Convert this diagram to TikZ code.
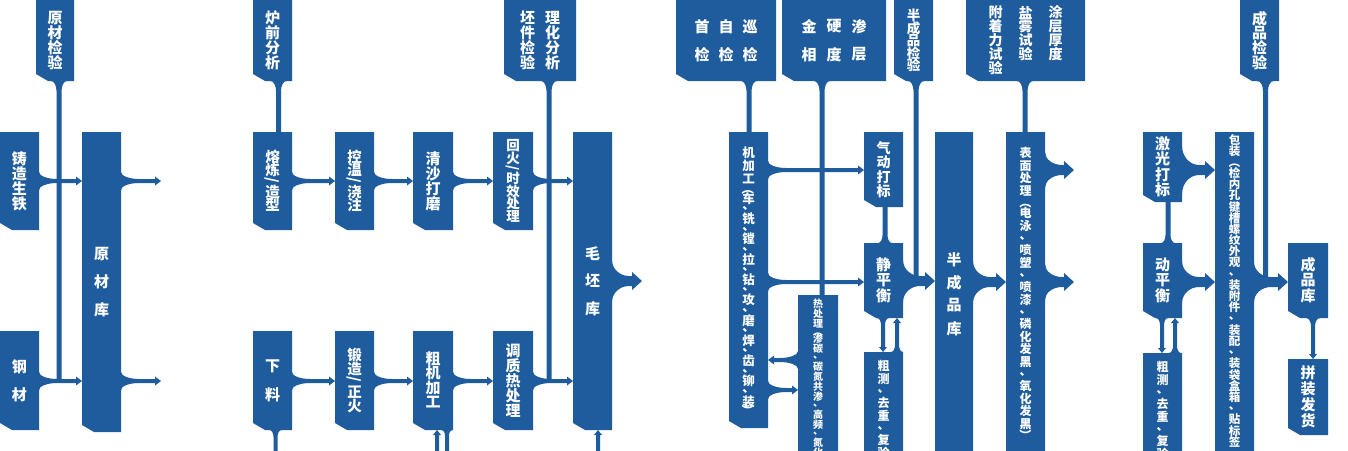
\documentclass[tikz,border=0pt]{standalone}
\usepackage{fontspec}
\setmainfont{Noto Sans CJK SC}
\usepackage{graphicx}
\usetikzlibrary{calc,backgrounds}
\definecolor{boxblue}{HTML}{1F5C9E}

% ---------- vertical (stacked) text ----------
\newlength\vpch \newlength\vppu \newlength\vpsl \newlength\vcw
\newcommand\vcell[2]{\hbox to\vcw{\hss\vbox to#1{\vss\hbox{#2}\vss\kern0pt}\hss}}
\def\vput#1{%
  \ifx#1、\vcell\vppu{#1}%
  \else\ifx#1/\vcell\vpsl{\rotatebox[origin=c]{-90}{#1}}%
  \else\ifx#1（\vcell\vpsl{\rotatebox[origin=c]{-90}{#1}}%
  \else\ifx#1）\vcell\vpsl{\rotatebox[origin=c]{-90}{#1}}%
  \else\vcell\vpch{#1}%
  \fi\fi\fi\fi}
\def\vrun#1{\ifx#1\relax\else\vput{#1}\expandafter\vrun\fi}
% #1 font size, #2 char pitch, #3 pitch of 、, #4 pitch of / and brackets, #5 text
\newcommand\vstk[5]{{\fontsize{#1}{#1}\selectfont\setlength\vcw{#1pt}%
  \setlength\vpch{#2pt}\setlength\vppu{#3pt}\setlength\vpsl{#4pt}%
  \vtop{\offinterlineskip\vrun#5\relax}}}

% ---------- boxes ----------
% #1 name, #2 x0, #3 y0, #4 x1, #5 y1 (pixels, y downwards), #6 text
\newcommand\bx[6]{%
  \node[txt, minimum width=#4pt-#2pt, minimum height=#5pt-#3pt] (#1)
    at ({(#2+#4)/2},{-(#3+#5)/2}) {#6};
  \begin{scope}[on background layer]
    \fill[bl] (#1.north west) -- (#1.north east) -- (#1.south east)
      -- ([xshift=12pt]#1.south west) -- ([yshift=7pt]#1.south west) -- cycle;
  \end{scope}}

% ---------- connectors ----------
% horizontal flared arrow: #1 from, #2 to, #3 y, #4 flare half, #5 shaft half,
% #6 flare length, #7 head length, #8 head half
\newcommand\harr[8]{%
  \fill[bl] let \p1=(#1), \p2=(#2), \n1={sign((\x2)-(\x1))} in
  (\x1,{-#3+#4})
  .. controls (\x1,{-#3+#4-0.55*(#4-#5)}) and ({\x1+(\n1)*0.45*#6},{-#3+#5}) .. ({\x1+(\n1)*#6},{-#3+#5})
  -- ({\x2-(\n1)*#7},{-#3+#5}) -- ({\x2-(\n1)*#7},{-#3+#8}) -- (\x2,{-#3})
  -- ({\x2-(\n1)*#7},{-#3-#8}) -- ({\x2-(\n1)*#7},{-#3-#5}) -- ({\x1+(\n1)*#6},{-#3-#5})
  .. controls ({\x1+(\n1)*0.45*#6},{-#3-#5}) and (\x1,{-#3-#4+0.55*(#4-#5)}) .. (\x1,{-#3-#4})
  -- cycle;}
\newcommand\thinarr[3]{\harr{#1}{#2}{#3}{9}{2}{18}{6}{4.5}}
\newcommand\bigarr[4]{\harr{#1}{#2}{#3}{#4}{5}{17}{10}{9}}
% vertical stem with flared start: #1 from, #2 to, #3 x, #4 flare half, #5 flare length
\def\sw{2.5}
\newcommand\vstem[5]{%
  \fill[bl] let \p1=(#1), \p2=(#2), \n1={sign((\y2)-(\y1))} in
  ({#3-#4},\y1) .. controls ({#3-#4+0.55*(#4-\sw)},\y1) and ({#3-\sw},{\y1+(\n1)*0.45*#5}) .. ({#3-\sw},{\y1+(\n1)*#5})
  -- ({#3-\sw},\y2) -- ({#3+\sw},\y2) -- ({#3+\sw},{\y1+(\n1)*#5})
  .. controls ({#3+\sw},{\y1+(\n1)*0.45*#5}) and ({#3+#4-0.55*(#4-\sw)},\y1) .. ({#3+#4},\y1) -- cycle;}
% vertical arrow with flared start and arrow head at the end
\newcommand\varr[5]{%
  \fill[bl] let \p1=(#1), \p2=(#2), \n1={sign((\y2)-(\y1))} in
  ({#3-#4},\y1) .. controls ({#3-#4+0.55*(#4-\sw)},\y1) and ({#3-\sw},{\y1+(\n1)*0.45*#5}) .. ({#3-\sw},{\y1+(\n1)*#5})
  -- ({#3-\sw},{\y2-(\n1)*5}) -- ({#3-4},{\y2-(\n1)*5}) -- (#3,\y2)
  -- ({#3+4},{\y2-(\n1)*5}) -- ({#3+\sw},{\y2-(\n1)*5}) -- ({#3+\sw},{\y1+(\n1)*#5})
  .. controls ({#3+\sw},{\y1+(\n1)*0.45*#5}) and ({#3+#4-0.55*(#4-\sw)},\y1) .. ({#3+#4},\y1) -- cycle;}

\begin{document}
\begin{tikzpicture}[x=1pt,y=1pt,
  bl/.style={fill=boxblue},
  txt/.style={text=white,font=\bfseries,inner sep=0pt,outer sep=0pt}]
\begin{scope}[on background layer]
  \fill[white] (0,0) rectangle (1348,-450);
\end{scope}
\useasboundingbox (0,0) rectangle (1348,-450);

% free ends / junctions
\coordinate (o1) at (161,-181);
\coordinate (o2) at (161,-381);
\coordinate (o3) at (642,-281);
\coordinate (o4) at (1074,-170);
\coordinate (o5) at (1074,-282);
\coordinate (j1) at (59,-379);
\coordinate (j3) at (549,-379);
\coordinate (j6) at (916,-277);
\coordinate (j8) at (1265.5,-277);
\coordinate (j9) at (275.5,-462);
\coordinate (j10) at (447,-462);
\coordinate (j11) at (437,-462);
\coordinate (j12) at (598,-462);

% top inspection boxes
\bx{T1}{36}{0}{74}{81}{\vstk{15}{15}{12}{12}{原材检验}}
\bx{T2}{253}{0}{292}{81}{\vstk{15}{15}{12}{12}{炉前分析}}
\bx{T3}{504}{0}{576}{81}{\vstk{15}{15}{12}{12}{坯件检验}\hspace{10pt}\vstk{15}{15}{12}{12}{理化分析}}
\bx{T4}{676}{0}{776}{81}{\vstk{15}{28}{12}{12}{首检}\hspace{9pt}\vstk{15}{28}{12}{12}{自检}\hspace{9pt}\vstk{15}{28}{12}{12}{巡检}}
\bx{T5}{782}{0}{886}{81}{\vstk{15}{28}{12}{12}{金相}\hspace{10pt}\vstk{15}{28}{12}{12}{硬度}\hspace{10pt}\vstk{15}{28}{12}{12}{渗层}}
\bx{T6}{894}{0}{933}{81}{\vstk{13.5}{12.6}{12}{12}{半成品检验}}
\bx{T7}{966}{0}{1085}{81}{\vstk{14}{14}{12}{12}{附着力试验}\hspace{16pt}\vstk{14}{14}{12}{12}{盐雾试验}\hspace{16pt}\vstk{14}{14}{12}{12}{涂层厚度}}
\bx{T8}{1240}{0}{1279}{81}{\vstk{15}{14.5}{12}{12}{成品检验}}

% raw material
\bx{A1}{0}{132}{39}{230}{\vstk{15}{15}{12}{12}{铸造生铁}}
\bx{A2}{0}{331}{39}{430}{\vstk{15}{28}{12}{12}{钢材}}
\bx{A3}{82}{132}{121}{432}{\vstk{15}{27.5}{12}{12}{原材库}}

% blanks
\bx{B1}{253}{132}{292}{230}{\vstk{14.5}{13}{9}{9}{熔炼/造型}}
\bx{B2}{335}{132}{374}{230}{\vstk{14.5}{13}{9}{9}{控温/浇注}}
\bx{B3}{413}{132}{453}{230}{\vstk{15}{15}{12}{12}{清沙打磨}}
\bx{B4}{493}{132}{533}{230}{\vstk{13.5}{12.5}{8}{8}{回火/时效处理}}
\bx{B5}{253}{331}{292}{430}{\vstk{15}{28}{12}{12}{下料}}
\bx{B6}{335}{331}{374}{430}{\vstk{14.5}{14}{9}{9}{锻造/正火}}
\bx{B7}{413}{331}{453}{430}{\vstk{15}{14.5}{12}{12}{粗机加工}}
\bx{B8}{493}{331}{533}{430}{\vstk{15}{15}{12}{12}{调质热处理}}
\bx{B9}{573}{132}{612}{430}{\vstk{15}{27.5}{12}{12}{毛坯库}}

% machining
\bx{C1}{729}{132}{768}{428}{\vstk{12.5}{13.3}{7}{6}{机加工（车、铣、镗、拉、钻、攻、磨、焊、齿、铆、装）}}
\bx{C2}{798}{295}{838}{470}{}
\node[txt,anchor=north] (C2t) at (818,-299) {\vstk{10}{10}{8}{5}{热处理（渗碳、碳氮共渗、高频、氮化}};
\bx{C3}{864}{132}{903}{207}{\vstk{14}{14.3}{12}{12}{气动打标}}
\bx{C4}{864}{243}{903}{318}{\vstk{15}{15.5}{12}{12}{静平衡}}
\bx{C5}{864}{352}{903}{470}{}
\node[txt,anchor=north] (C5t) at (883.5,-359) {\vstk{12}{13.5}{10}{10}{粗测、去重、复验}};
\bx{C6}{935}{132}{973}{470}{}
\node[txt] (C6t) at (954,-294) {\vstk{15}{23}{12}{12}{半成品库}};
\bx{C7}{1006}{132}{1045}{470}{}
\node[txt,anchor=north] (C7t) at (1025.5,-147) {\vstk{12}{12.5}{12}{10}{表面处理（电泳、喷塑、喷漆、磷化发黑、氧化发黑）}};

% finishing
\bx{D1}{1143}{132}{1182}{202}{\vstk{15}{15.5}{12}{12}{激光打标}}
\bx{D2}{1143}{243}{1182}{318}{\vstk{15}{15.5}{12}{12}{动平衡}}
\bx{D3}{1143}{353}{1182}{470}{}
\node[txt,anchor=north] (D3t) at (1162.5,-360) {\vstk{12}{13.5}{10}{10}{粗测、去重、复验}};
\bx{D4}{1215}{132}{1254}{470}{}
\node[txt,anchor=north] (D4t) at (1234.5,-134) {\vstk{11.5}{11.2}{11.2}{11.2}{包装（检内孔键槽螺纹外观、装附件、装配、装袋盒箱、贴标签}};
\bx{D5}{1288}{243}{1328}{318}{\vstk{15}{15.5}{12}{12}{成品库}}
\bx{D6}{1288}{359}{1328}{435}{\vstk{15}{16}{12}{12}{拼装发货}}

% connectors
\begin{scope}[on background layer]
  % stems from inspection boxes
  \vstem{T1.south}{j1}{59}{8}{10}
  \vstem{T2.south}{B1.north}{278.5}{8}{10}
  \vstem{T3.south}{j3}{549}{8}{10}
  \vstem{T4.south}{C1.north}{749}{8}{10}
  \vstem{T5.south}{C2.north}{822}{8}{10}
  \vstem{T6.south}{j6}{916}{8}{10}
  \vstem{T7.south}{C7.north}{1025}{8}{10}
  \vstem{T8.south}{j8}{1265.5}{8}{10}
  \vstem{C4.north}{C3.south}{885}{7}{8}
  \vstem{D2.north}{D1.south}{1168}{7}{8}
  \def\sw{2}
  \vstem{B5.south}{j9}{275.5}{6}{7}
  \vstem{B7.south}{j10}{447}{5}{6}
  \varr{j11}{B7.south}{437}{2}{1}
  \varr{j12}{B9.south}{598}{2}{1}
  \varr{C4.south}{C5.north}{883}{6}{7}
  \varr{C5.north}{C4.south}{897}{6}{7}
  \varr{D2.south}{D3.north}{1162}{6}{7}
  \varr{D3.north}{D2.south}{1175}{6}{7}
  \varr{D5.south}{D6.north}{1313}{7}{8}
  % thin arrows
  \thinarr{A1.east}{A3.west}{181}
  \thinarr{A2.east}{A3.west}{381}
  \thinarr{A3.east}{o1}{181}
  \thinarr{A3.east}{o2}{381}
  \thinarr{B1.east}{B2.west}{181}
  \thinarr{B2.east}{B3.west}{181}
  \thinarr{B3.east}{B4.west}{181}
  \thinarr{B4.east}{B9.west}{181}
  \thinarr{B5.east}{B6.west}{381}
  \thinarr{B6.east}{B7.west}{381}
  \thinarr{B7.east}{B8.west}{381}
  \thinarr{B8.east}{B9.west}{381}
  \thinarr{C1.east}{C3.west}{170}
  \thinarr{C1.east}{C4.west}{282}
  \thinarr{C2.west}{C1.east}{360}
  \thinarr{C1.east}{C2.west}{390}
  % big arrows
  \bigarr{B9.east}{o3}{281}{21}
  \bigarr{C4.east}{C6.west}{281}{21}
  \bigarr{C6.east}{C7.west}{282}{21}
  \bigarr{C7.east}{o4}{170}{18}
  \bigarr{C7.east}{o5}{282}{18}
  \bigarr{D1.east}{D4.west}{170}{24}
  \bigarr{D2.east}{D4.west}{282}{21}
  \bigarr{D4.east}{D5.west}{282}{20}
\end{scope}
\end{tikzpicture}
\end{document}
